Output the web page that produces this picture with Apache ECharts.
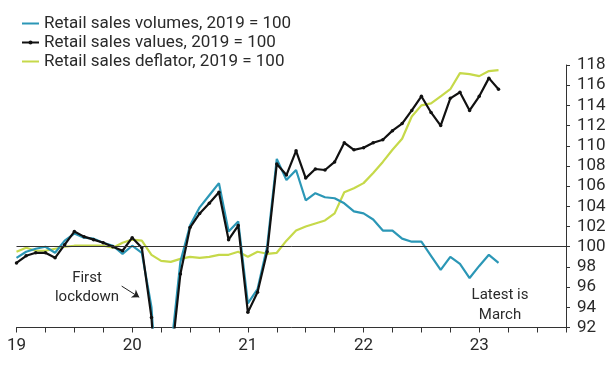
<!DOCTYPE html>
<html><head><meta charset="utf-8">
<script src="https://cdn.jsdelivr.net/npm/echarts@6/dist/echarts.min.js"></script>
<style>html,body{margin:0;padding:0;background:#fff}#c{width:612px;height:367px}</style>
</head><body><div id="c"></div>
<script>
// Months Jan 2019 .. Mar 2023
const months = [];
for (let y = 2019; y <= 2023; y++) for (let m = 1; m <= 12; m++) { if (y === 2023 && m > 3) break; months.push(y + '-' + String(m).padStart(2, '0')); }

const volumes = [98.9,99.5,99.8,100.0,99.4,100.6,101.3,100.9,100.8,100.4,100.1,99.3,
  100.1,99.4,94.0,80.0,89.5,98.5,102.1,103.9,105.1,106.3,101.5,102.5,
  94.4,95.8,100.0,108.7,106.6,107.6,104.6,105.3,104.9,104.8,104.3,103.5,
  103.3,102.7,101.6,101.6,100.8,100.5,100.5,99.1,97.7,99.0,98.3,96.9,
  98.1,99.2,98.4];
const values = [98.4,99.1,99.4,99.4,98.9,100.2,101.5,101.0,100.7,100.4,100.0,99.6,
  100.9,99.9,93.0,79.0,88.4,97.3,101.9,103.3,104.3,105.4,100.7,102.1,
  93.5,95.5,99.5,108.2,107.1,109.5,106.8,107.7,107.6,108.4,110.3,109.6,
  109.8,110.3,110.6,111.5,112.2,113.5,114.9,113.3,112.0,114.7,115.3,113.5,
  114.9,116.7,115.6];
const deflator = [99.5,99.9,99.6,99.6,99.8,100.0,100.1,100.1,100.1,100.1,99.9,100.4,
  100.7,100.6,99.2,98.6,98.5,98.8,99.0,98.9,99.0,99.2,99.2,99.5,
  99.0,99.5,99.3,99.4,100.6,101.6,102.0,102.3,102.6,103.3,105.4,105.8,
  106.3,107.3,108.4,109.6,110.7,112.9,114.0,114.2,114.9,115.6,117.2,117.1,
  116.9,117.4,117.5];
const seriesNames = ['Retail sales volumes, 2019 = 100','Retail sales values, 2019 = 100','Retail sales deflator, 2019 = 100'];
const yTicks = {min: 92, max: 118, step: 2};

function toX(s){ const [y,m] = s.split('-').map(Number); return y + (m-1)/12; }
function pairs(arr){ return months.map((d,i)=>[toX(d), arr[i]]); }

const FONT = 'Roboto';
const TXT = '#2a2a2a';
const BLUE = '#2b97b6', BLACK = '#111', GREEN = '#c6d94a';
const chart = echarts.init(document.getElementById('c'), null, {renderer:'canvas'});
chart.setOption({
  animation:false,
  textStyle:{fontFamily:FONT},
  grid:{left:16.5, right:46, top:65, bottom:39.5, containLabel:false},
  legend:{
    orient:'vertical', left:16, top:9, itemGap:0, itemWidth:17, itemHeight:5,
    textStyle:{fontFamily:FONT, fontSize:17, color:TXT, lineHeight:19},
    data:[
      {name:seriesNames[0], itemStyle:{color:'rgba(0,0,0,0)', borderWidth:0}},
      {name:seriesNames[1]},
      {name:seriesNames[2], itemStyle:{color:'rgba(0,0,0,0)', borderWidth:0}}
    ]
  },
  xAxis:{
    type:'value', min:2019, max:2023.75, interval:0.25,
    axisLine:{show:true, lineStyle:{color:'#333', width:1}},
    axisTick:{show:true, length:5, lineStyle:{color:'#333'}},
    splitLine:{show:false},
    axisLabel:{fontFamily:FONT, fontSize:17, color:TXT, margin:10,
      formatter:v=>Math.abs(v-Math.round(v))<1e-6 && v<2023.5 ? String(Math.round(v)).slice(2) : ''}
  },
  yAxis:{
    type:'value', position:'right', min:yTicks.min, max:yTicks.max, interval:yTicks.step,
    axisLine:{show:true, lineStyle:{color:'#333', width:1}},
    axisTick:{show:true, length:4, lineStyle:{color:'#333'}},
    splitLine:{show:false},
    axisLabel:{fontFamily:FONT, fontSize:17, color:TXT, margin:11}
  },
  series:[
    {name:seriesNames[0], type:'line', data:pairs(volumes), symbol:'none', clip:true, z:3,
     lineStyle:{color:BLUE, width:2.2}, itemStyle:{color:BLUE}},
    {name:seriesNames[1], type:'line', data:pairs(values), symbol:'circle', symbolSize:3.5, showSymbol:true, clip:true, z:4,
     lineStyle:{color:BLACK, width:2.2}, itemStyle:{color:BLACK}},
    {name:seriesNames[2], type:'line', data:pairs(deflator), symbol:'none', clip:true, z:2,
     lineStyle:{color:GREEN, width:2.2}, itemStyle:{color:GREEN},
     markLine:{silent:true, symbol:'none', label:{show:false},
       lineStyle:{color:'#333', width:1, type:'solid'},
       data:[{yAxis:100}]}},
    {name:'annot', type:'line', data:[], silent:true,
     markLine:{silent:true, symbol:['none','arrow'], symbolSize:7, label:{show:false},
       lineStyle:{color:'#222', width:1, type:'solid'},
       data:[[{coord:[2019.909,96.1]},{coord:[2020.061,95.0]}]]}}
  ],
  graphic:[
    {type:'text', x:87, y:278, style:{text:'First', font:'15px '+FONT, fill:TXT, textAlign:'center', textVerticalAlign:'middle'}},
    {type:'text', x:87, y:297, style:{text:'lockdown', font:'15px '+FONT, fill:TXT, textAlign:'center', textVerticalAlign:'middle'}},
    {type:'text', x:500, y:295, style:{text:'Latest is', font:'15px '+FONT, fill:TXT, textAlign:'center', textVerticalAlign:'middle'}},
    {type:'text', x:500, y:315, style:{text:'March', font:'15px '+FONT, fill:TXT, textAlign:'center', textVerticalAlign:'middle'}}
  ]
});
</script></body></html>
